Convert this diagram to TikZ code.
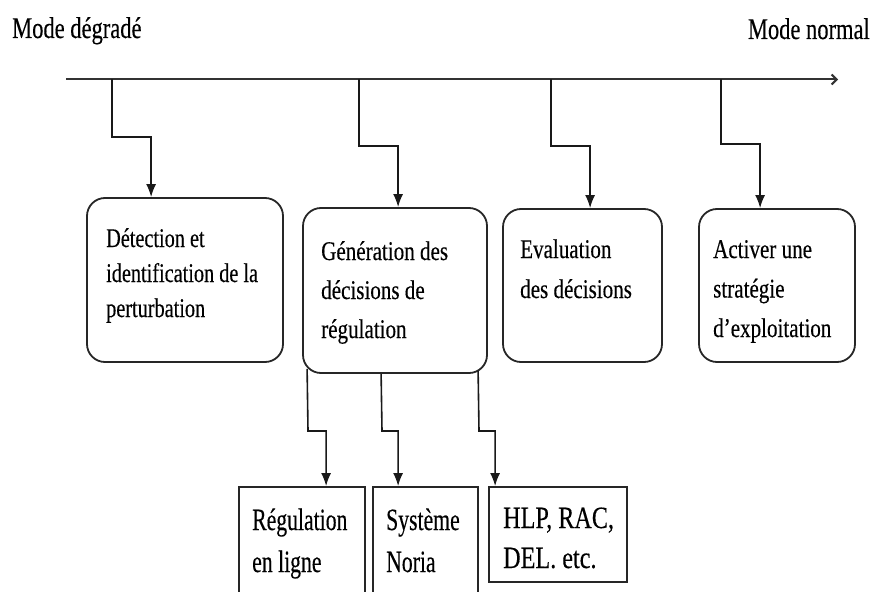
\documentclass[tikz,border=0pt]{standalone}
\usepackage{fontspec}
\setmainfont[FakeStretch=0.75,FakeBold=0.3]{Liberation Serif}
\newfontfamily\narrowfont[FakeStretch=0.70,FakeBold=0.3]{Liberation Serif}
\newfontfamily\boxfont[FakeStretch=0.78,FakeBold=0.3]{Liberation Serif}
\usetikzlibrary{arrows.meta,calc}
\begin{document}
\begin{tikzpicture}[x=1pt,y=-1pt,
  box/.style={draw=black!85,line width=1.8pt,rounded corners=18pt,inner sep=0pt},
  sbox/.style={draw=black!85,line width=1.8pt,inner sep=0pt},
  lbl/.style={inner sep=0pt,anchor=base west,align=left,text=black},
  conn/.style={draw=black!90,line width=1.6pt,-{Latex[length=13pt,width=10pt]}},
  tline/.style={draw=black!80,line width=2pt,-{Straight Barb[length=5pt,width=10pt]}}
  ]
\useasboundingbox (0,0) rectangle (874,591);

% boxes
\node[box,minimum width=196pt,minimum height=164pt] (det) at (185,280) {};
\node[box,minimum width=184pt,minimum height=165pt] (gen) at (395,290.5) {};
\node[box,minimum width=159pt,minimum height=153pt] (eval) at (582.5,285.5) {};
\node[box,minimum width=156pt,minimum height=153pt] (act) at (777,285.5) {};
\node[sbox,minimum width=126pt,minimum height=113pt] (reg) at (302,543.5) {};
\node[sbox,minimum width=105pt,minimum height=113pt] (sys) at (425.5,543.5) {};
\node[sbox,minimum width=138pt,minimum height=95pt] (hlp) at (558,534.5) {};

% texts (anchor = baseline of the last line)
\node[lbl,font=\fontsize{30}{30}\selectfont] (mdeg) at (12,38) {Mode dégradé};
\node[lbl,anchor=base east,font=\fontsize{30}{30}\selectfont] (mnorm) at (870,39) {Mode normal};
\node[lbl,font=\fontsize{27}{35}\selectfont] (tdet) at (106,317) {Détection et\\identification de la\\perturbation};
\node[lbl,font=\boxfont\fontsize{27}{39}\selectfont] (tgen) at (321,338) {Génération des\\décisions de\\régulation};
\node[lbl,font=\boxfont\fontsize{27}{40}\selectfont] (teval) at (520,298) {Evaluation\\des décisions};
\node[lbl,font=\boxfont\fontsize{27}{39.5}\selectfont] (tact) at (713,337) {Activer une\\stratégie\\d’exploitation};
\node[lbl,font=\narrowfont\fontsize{31}{42}\selectfont] (treg) at (252,572) {Régulation\\en ligne};
\node[lbl,font=\narrowfont\fontsize{31}{42}\selectfont] (tsys) at (386,572) {Système\\Noria};
\node[lbl,font=\boxfont\fontsize{31}{40}\selectfont] (thlp) at (503,568) {HLP, RAC,\\DEL. etc.};

% timeline
\coordinate (ts) at (66,79.5);
\coordinate (te) at (838,79.5);
\draw[tline] (ts) -- (te);
\coordinate (d1) at (112,79.5);
\coordinate (d2) at (359,79.5);
\coordinate (d3) at (551,79.5);
\coordinate (d4) at (721,79.5);

\draw[conn] (d1) -- (112,137) -| ($(det.north west)+(65,0)$);
\draw[conn] (d2) -- (359,146) -| ($(gen.north west)+(96,0)$);
\draw[conn] (d3) -- (551,146) -| ($(eval.north west)+(88,0)$);
\draw[conn] (d4) -- (721,144) -| ($(act.north west)+(62,0)$);

\draw[conn] ($(gen.south west)+(5,-5)$) -- (308,431) -| ($(reg.north west)+(88,0)$);
\draw[conn] ($(gen.south west)+(79,0)$) -- (382,431) -| ($(sys.north west)+(26,0)$);
\draw[conn] ($(gen.south west)+(176,-3)$) -- (479,431) -| ($(hlp.north west)+(7,0)$);
\end{tikzpicture}
\end{document}
